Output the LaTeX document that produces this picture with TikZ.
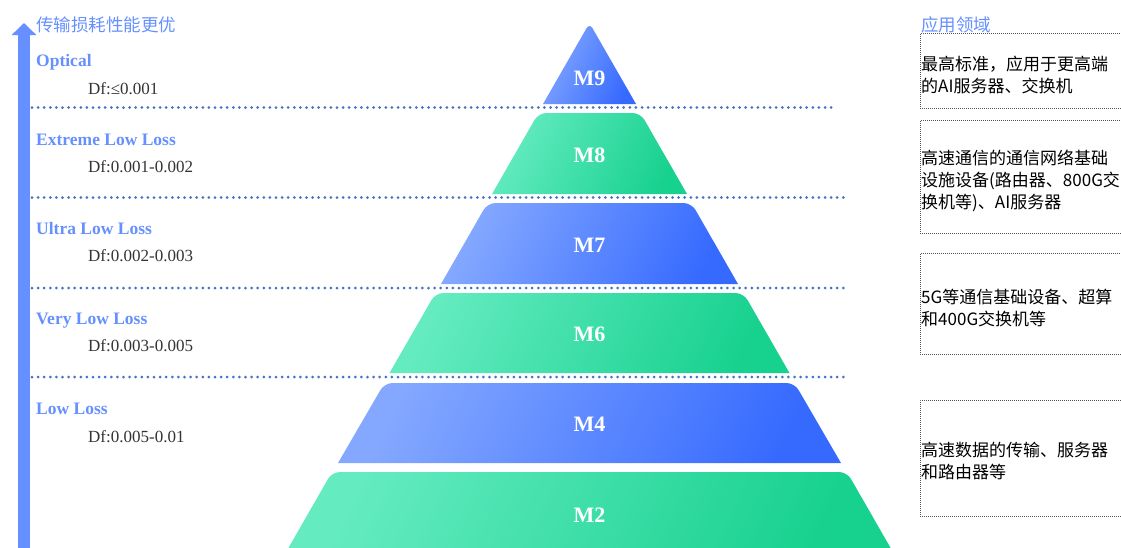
\documentclass[tikz,border=0pt]{standalone}
\usepackage{fontspec}
\setmainfont{Liberation Serif}
\newfontfamily\cjk{Noto Sans CJK SC}
\usetikzlibrary{arrows.meta, positioning}

\definecolor{bluelight}{HTML}{84A8FF}
\definecolor{bluedark}{HTML}{366AFF}
\definecolor{greenlight}{HTML}{64EBC0}
\definecolor{greendark}{HTML}{17D18F}
\definecolor{headblue}{HTML}{6690FF}
\definecolor{dotblue}{HTML}{4472C4}
\definecolor{dfgray}{HTML}{333333}
\definecolor{boxgray}{HTML}{555555}

\tikzset{
    bluelayer/.style={left color=bluelight, right color=bluedark, shading angle=65},
    greenlayer/.style={left color=greenlight, right color=greendark, shading angle=65},
    layerlabel/.style={inner sep=0pt, text=white, font=\fontsize{22}{22}\selectfont\bfseries},
    lossname/.style={inner sep=0pt, anchor=base west, text=headblue, font=\fontsize{17.5}{20}\selectfont\bfseries},
    dfval/.style={inner sep=0pt, anchor=base west, text=dfgray, font=\fontsize{17}{20}\selectfont},
    cjktitle/.style={inner sep=0pt, anchor=west, text=headblue, font=\fontsize{17.5}{20}\selectfont\cjk},
    apptext/.style={inner sep=0pt, anchor=west, align=left, text=black, font=\fontsize{17}{22}\selectfont\cjk},
    appbox/.style={draw=boxgray, line width=0.9pt, dash pattern=on 0.9pt off 1.1pt, inner sep=0pt, anchor=north west, minimum width=230pt},
    levelline/.style={draw=dotblue, line width=3pt, line cap=round, dash pattern=on 0pt off 6.1pt},
    perfarrow/.style={draw=headblue, line width=12pt, -{Triangle[length=12pt, width=24pt]}}
}

\begin{document}
\begin{tikzpicture}[x=1pt, y=-1pt]
    \useasboundingbox (0,0) rectangle (1121,547);
    %
    % pyramid layers
    \shade[bluelayer] (543,104) [rounded corners=6pt] -- (589.5,23) [sharp corners] -- (636,104) -- cycle;
    \shade[greenlayer] (492,194) [rounded corners=8pt] -- (538.5,113) -- (640.5,113) [sharp corners] -- (687,194) -- cycle;
    \shade[bluelayer] (441,284) [rounded corners=8pt] -- (487.5,203) -- (691.5,203) [sharp corners] -- (738,284) -- cycle;
    \shade[greenlayer] (389.5,373) [rounded corners=8pt] -- (435.5,293) -- (743.5,293) [sharp corners] -- (789.5,373) -- cycle;
    \shade[bluelayer] (338,463) [rounded corners=8pt] -- (384.5,383) -- (794.5,383) [sharp corners] -- (841,463) -- cycle;
    \shade[greenlayer] (285.5,553) [rounded corners=8pt] -- (332,472) -- (847,472) [sharp corners] -- (893.5,553) -- cycle;
    %
    \node [layerlabel] (m9) at (589.5,78) {M9};
    \node [layerlabel] (m8) at (589.5,155) {M8};
    \node [layerlabel] (m7) at (589.5,245) {M7};
    \node [layerlabel] (m6) at (589.5,334) {M6};
    \node [layerlabel] (m4) at (589.5,424) {M4};
    \node [layerlabel] (m2) at (589.5,515) {M2};
    %
    % level separators
    \path [levelline] (32,107.5) -- (833,107.5);
    \path [levelline] (32,197.5) -- (847,197.5);
    \path [levelline] (32,288) -- (847,288);
    \path [levelline] (32,377) -- (847,377);
    %
    % performance axis
    \coordinate (axisfoot) at (24,560);
    \coordinate (axistip) at (24,23);
    \draw [perfarrow] (axisfoot) -- (axistip);
    \node [cjktitle] (perf) at (36,25) {传输损耗性能更优};
    %
    \node [lossname] (optical) at (36,66) {Optical};
    \node [dfval] (df9) at (88,94) {Df:≤0.001};
    \node [lossname] (extreme) at (36,145) {Extreme Low Loss};
    \node [dfval] (df8) at (88,172) {Df:0.001-0.002};
    \node [lossname] (ultra) at (36,234) {Ultra Low Loss};
    \node [dfval] (df7) at (88,261) {Df:0.002-0.003};
    \node [lossname] (very) at (36,324) {Very Low Loss};
    \node [dfval] (df6) at (88,351) {Df:0.003-0.005};
    \node [lossname] (low) at (36,414) {Low Loss};
    \node [dfval] (df4) at (88,442) {Df:0.005-0.01};
    %
    % application fields
    \node [cjktitle] (apps) at (921,25) {应用领域};
    \node [appbox, minimum height=75pt] (box1) at (920,33) {};
    \node [appbox, minimum height=113pt] (box2) at (920,120) {};
    \node [appbox, minimum height=101pt] (box3) at (920,253) {};
    \node [appbox, minimum height=116pt] (box4) at (920,400) {};
    %
    \node [apptext, right=1pt of box1.west, yshift=-4pt] (app1) {最高标准，应用于更高端\\的AI服务器、交换机};
    \node [apptext, right=1pt of box2.west, yshift=-4pt] (app2) {高速通信的通信网络基础\\设施设备(路由器、800G交\\换机等)、AI服务器};
    \node [apptext, right=1pt of box3.west, yshift=-4pt] (app3) {5G等通信基础设备、超算\\和400G交换机等};
    \node [apptext, right=1pt of box4.west, yshift=-3pt] (app4) {高速数据的传输、服务器\\和路由器等};
\end{tikzpicture}
\end{document}
